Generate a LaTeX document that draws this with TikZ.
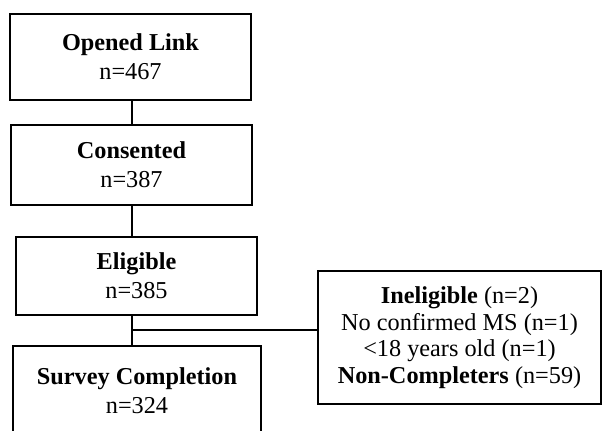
\documentclass[tikz,border=0pt]{standalone}
\usepackage{fontspec}
\setmainfont{Liberation Serif}
\begin{document}
\begin{tikzpicture}[x=0.75pt,y=-0.75pt,
  stagebox/.style={draw=black, line width=1.7pt, align=center, inner sep=0pt,
    font=\fontsize{18.2}{22}\selectfont},
  sidebox/.style={draw=black, line width=1.7pt, align=center, inner sep=0pt,
    font=\fontsize{18.2}{20}\selectfont},
  link/.style={draw=black, line width=2.1pt}]
\useasboundingbox (0,0) rectangle (602,430);
\clip (0,0) rectangle (602,430);

% main flow of participants
\node[stagebox, minimum width=241*0.75pt, minimum height=86*0.75pt] (opened) at (130.5,57)
  {\textbf{Opened Link}\\n=467};
\node[stagebox, minimum width=241*0.75pt, minimum height=80*0.75pt] (consent) at (131.5,165)
  {\textbf{Consented}\\n=387};
\node[stagebox, minimum width=241*0.75pt, minimum height=78*0.75pt] (eligible) at (136.5,276)
  {\textbf{Eligible}\\n=385};
\node[stagebox, minimum width=248*0.75pt, minimum height=90*0.75pt] (complete) at (137,391)
  {\textbf{Survey Completion}\\n=324};

% exclusions
\node[sidebox, minimum width=283*0.75pt, minimum height=133*0.75pt] (excluded) at (459.5,337.5)
  {\textbf{Ineligible} (n=2)\\No confirmed MS (n=1)\\{<}18 years old (n=1)\\\textbf{Non-Completers} (n=59)};

% connectors
\coordinate (spine) at (132,0);
\coordinate (branch) at (132,330);
\draw[link] (spine |- opened.south) -- (spine |- consent.north);
\draw[link] (spine |- consent.south) -- (spine |- eligible.north);
\draw[link] (spine |- eligible.south) -- (spine |- complete.north);
\draw[link] (branch) -- (branch -| excluded.west);
\end{tikzpicture}
\end{document}
